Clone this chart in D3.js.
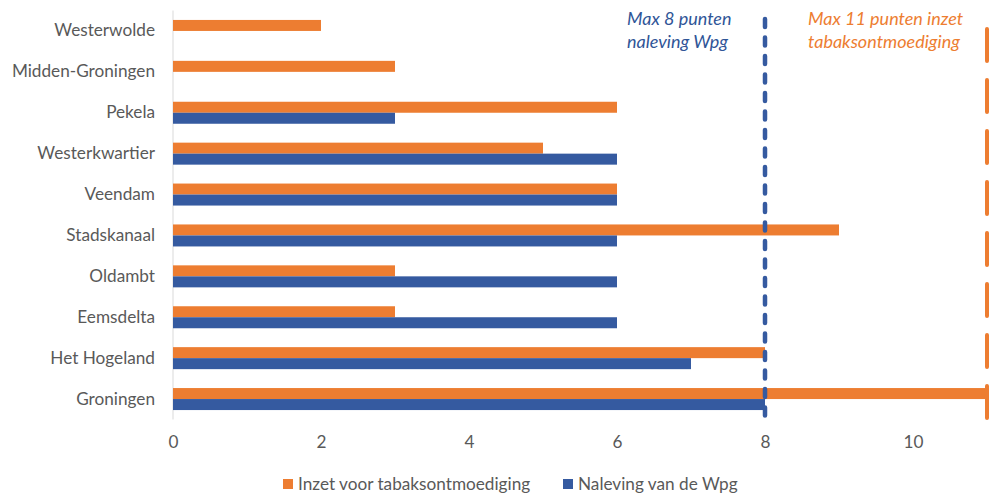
<!DOCTYPE html>
<html>
<head>
<meta charset="utf-8">
<script src="https://cdn.jsdelivr.net/npm/d3@7"></script>
<style>
  html, body { margin: 0; padding: 0; background: #fff; }
  svg { display: block; }
  text { font-family: Lato, "Open Sans", sans-serif; }
</style>
</head>
<body>
<svg id="chart" width="992" height="496"></svg>
<script>
const categories = ["Westerwolde", "Midden-Groningen", "Pekela", "Westerkwartier", "Veendam",
  "Stadskanaal", "Oldambt", "Eemsdelta", "Het Hogeland", "Groningen"];
const inzetValues = [2, 3, 6, 5, 6, 9, 3, 3, 8, 11];
const nalevingValues = [0, 0, 3, 6, 6, 6, 6, 6, 7, 8];
const xTicks = [0, 2, 4, 6, 8, 10];
const seriesNames = ["Inzet voor tabaksontmoediging", "Naleving van de Wpg"];
const maxNaleving = 8;
const maxInzet = 11;
const annotationNaleving = ["Max 8 punten", "naleving Wpg"];
const annotationInzet = ["Max 11 punten inzet", "tabaksontmoediging"];

const ORANGE = "#ED7D31";
const BLUE = "#355AA0";
const GRAY = "#595959";

const svg = d3.select("#chart");
const margin = { left: 173, right: 5, top: 10.5, bottom: 76.5 };
const W = 992, H = 496;

const x = d3.scaleLinear().domain([0, 11]).range([margin.left, margin.left + 74 * 11]);
const y = d3.scaleBand().domain(categories).range([margin.top, H - margin.bottom]).paddingInner(0).paddingOuter(0);
const bh = 11;

// axis line (vertical)
svg.append("line")
  .attr("x1", x(0)).attr("x2", x(0))
  .attr("y1", y.range()[0]).attr("y2", y.range()[1])
  .attr("stroke", "#d9d9d9").attr("stroke-width", 1);

// bars
const g = svg.append("g");
g.selectAll("rect.inzet").data(categories).join("rect")
  .attr("class", "inzet")
  .attr("x", x(0))
  .attr("y", d => y(d) + y.bandwidth() / 2 - bh)
  .attr("width", (d, i) => x(inzetValues[i]) - x(0))
  .attr("height", bh)
  .attr("fill", ORANGE);
g.selectAll("rect.naleving").data(categories).join("rect")
  .attr("class", "naleving")
  .attr("x", x(0))
  .attr("y", d => y(d) + y.bandwidth() / 2)
  .attr("width", (d, i) => x(nalevingValues[i]) - x(0))
  .attr("height", bh)
  .attr("fill", BLUE);

// category labels
const yAxis = d3.axisLeft(y).tickSize(0).tickPadding(18);
const ya = svg.append("g").attr("transform", `translate(${x(0)},0)`).call(yAxis);
ya.select(".domain").remove();
ya.selectAll("text").attr("font-size", 17.2).attr("fill", GRAY).style("font-family", "Lato, sans-serif");

// x tick labels
const xAxis = d3.axisBottom(x).tickValues(xTicks).tickSize(0).tickPadding(16).tickFormat(d3.format("d"));
const xa = svg.append("g").attr("transform", `translate(0,${y.range()[1]})`).call(xAxis);
xa.select(".domain").remove();
xa.selectAll("text").attr("font-size", 17.2).attr("fill", GRAY).style("font-family", "Lato, sans-serif");

// reference dashed lines
svg.append("line")
  .attr("x1", x(maxNaleving)).attr("x2", x(maxNaleving))
  .attr("y1", 19).attr("y2", 420)
  .attr("stroke", BLUE).attr("stroke-width", 4.5)
  .attr("stroke-linecap", "round").attr("stroke-dasharray", "8 10.5");
svg.append("line")
  .attr("x1", x(maxInzet)).attr("x2", x(maxInzet))
  .attr("y1", 29).attr("y2", 420)
  .attr("stroke", ORANGE).attr("stroke-width", 4)
  .attr("stroke-linecap", "round").attr("stroke-dasharray", "32 19");

// annotations
const ann1 = svg.append("text")
  .attr("font-size", 18).attr("font-style", "italic").attr("fill", "#2F5597");
annotationNaleving.forEach((t, i) => ann1.append("tspan").attr("x", 627).attr("y", 25 + i * 23).text(t));
const ann2 = svg.append("text")
  .attr("font-size", 18).attr("font-style", "italic").attr("fill", ORANGE);
annotationInzet.forEach((t, i) => ann2.append("tspan").attr("x", 808).attr("y", 25 + i * 23).text(t));

// legend
const legendItems = [
  { name: seriesNames[0], color: ORANGE, x: 283 },
  { name: seriesNames[1], color: BLUE, x: 563 }
];
const lg = svg.append("g");
legendItems.forEach(it => {
  lg.append("rect").attr("x", it.x).attr("y", 479).attr("width", 10).attr("height", 10).attr("fill", it.color);
  lg.append("text").attr("x", it.x + 15).attr("y", 490).attr("font-size", 17.2).attr("fill", GRAY).text(it.name);
});
</script>
</body>
</html>
